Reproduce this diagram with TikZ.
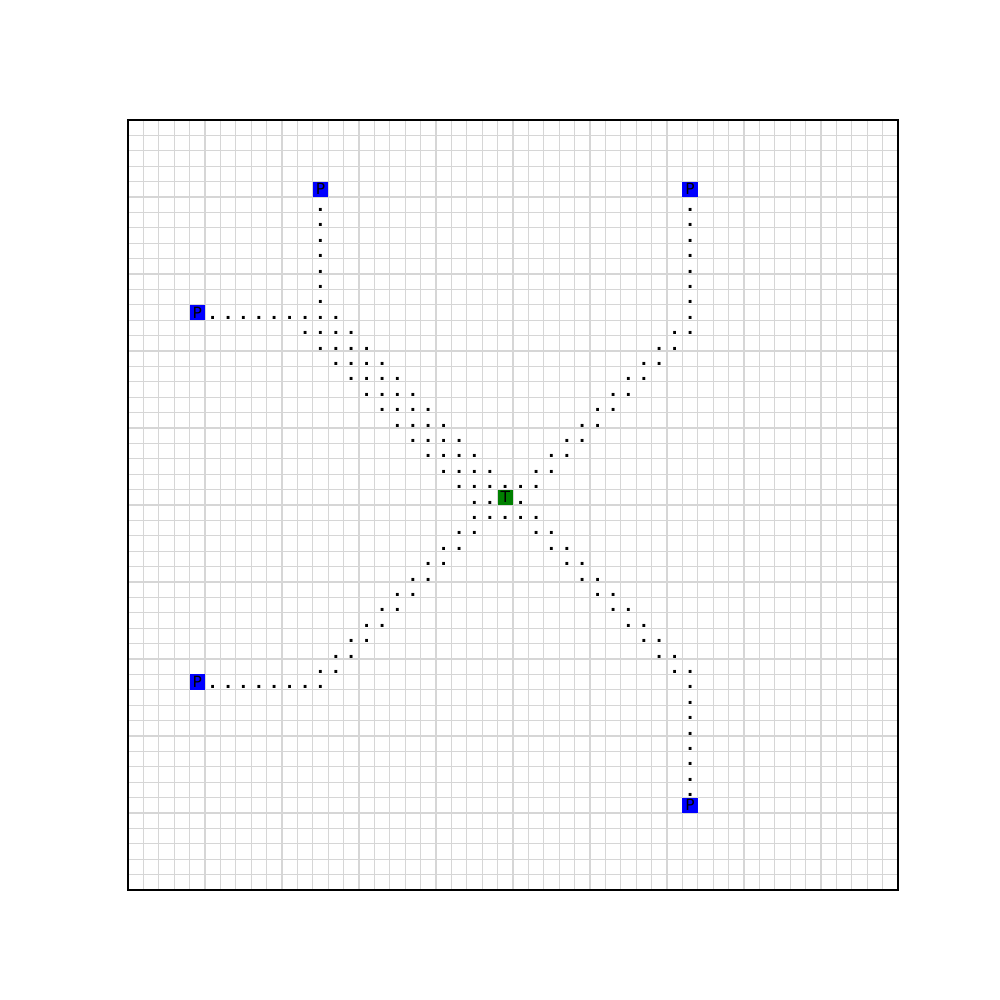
\documentclass[tikz,border=0pt]{standalone}
\usepackage{fontspec}
\setmainfont{DejaVu Sans}
\usetikzlibrary{positioning}
\definecolor{gridgray}{HTML}{D6D6D6}
\definecolor{pblue}{HTML}{0000FF}
\definecolor{tgreen}{HTML}{008000}
\tikzset{
  gridline/.style={draw=gridgray,line width=0.35pt},
  axesframe/.style={draw=black,line width=0.3pt},
  pcell/.style={fill=pblue,minimum size=1.54mm,inner sep=0pt,
                font=\fontsize{4.4pt}{5pt}\selectfont},
  tcell/.style={fill=tgreen,minimum size=1.54mm,inner sep=0pt,
                font=\fontsize{4.4pt}{5pt}\selectfont},
  pathdot/.style={inner sep=0pt,anchor=base,
                  font=\fontsize{4.6pt}{5pt}\selectfont\bfseries}
}
\newcommand{\stepdot}[2]{\node[pathdot] (d-#1-#2) at (#1+0.5,#2+0.94) {.};}

\begin{document}
\begin{tikzpicture}[x=0.154cm,y=-0.154cm]
  \useasboundingbox (-8.3117,-7.7922) rectangle (56.6234,57.1429);
  % grid, 50 x 50 cells
  \foreach \i in {0,...,50} {
    \draw[gridline] (\i,0) -- (\i,50);
    \draw[gridline] (0,\i) -- (50,\i);
  }

  % upper left: two runs meet and go down to T
  \foreach \r in {5,...,11} { \stepdot{12}{\r} }
  \foreach \c in {5,...,13} { \stepdot{\c}{12} }
  \foreach \r in {13,...,23} {
    \foreach \k [evaluate=\k as \c using int(\r+\k)] in {-2,...,1} { \stepdot{\c}{\r} }
  }
  \foreach \c in {22,23,25} { \stepdot{\c}{24} }
  \stepdot{24}{25}

  % upper right
  \foreach \r in {5,...,12} { \stepdot{36}{\r} }
  \foreach \r in {13,...,23} {
    \foreach \k [evaluate=\k as \c using int(\k-\r)] in {48,49} { \stepdot{\c}{\r} }
  }

  % lower left
  \foreach \c in {5,...,12} { \stepdot{\c}{36} }
  \foreach \r in {25,...,35} {
    \foreach \k [evaluate=\k as \c using int(\k-\r)] in {47,48} { \stepdot{\c}{\r} }
  }

  % lower right
  \foreach \r in {36,...,43} { \stepdot{36}{\r} }
  \foreach \r in {25,...,35} {
    \foreach \k [evaluate=\k as \c using int(\r+\k)] in {0,1} { \stepdot{\c}{\r} }
  }

  % sources and target
  \node[pcell] (p1) at (12.5,4.5) {P};
  \node[pcell] (p2) at (36.5,4.5) {P};
  \node[pcell] (p3) at (4.5,12.5) {P};
  \node[pcell] (p4) at (4.5,36.5) {P};
  \node[pcell] (p5) at (36.5,44.5) {P};
  \node[tcell] (t) at (24.5,24.5) {T};

  \draw[axesframe] (0,0) rectangle (50,50);
\end{tikzpicture}
\end{document}
